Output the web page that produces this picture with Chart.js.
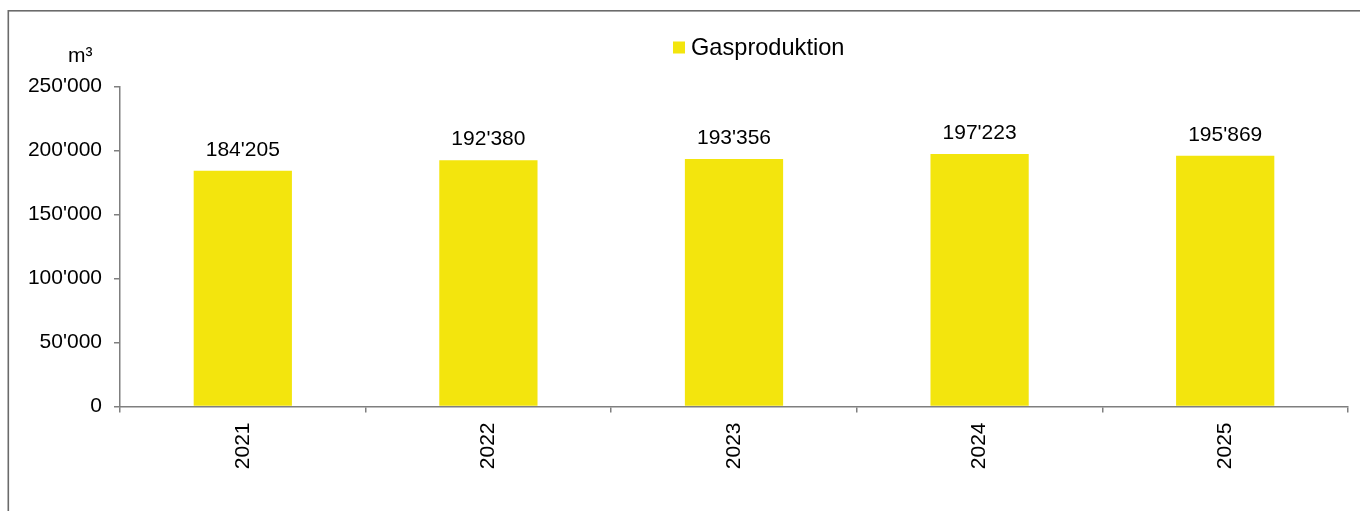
<!DOCTYPE html>
<html>
<head>
<meta charset="utf-8">
<script src="https://cdn.jsdelivr.net/npm/chart.js@4/dist/chart.umd.min.js"></script>
<style>
  html, body { margin: 0; padding: 0; background: #fff; }
  canvas { display: block; }
</style>
</head>
<body>
<canvas id="gas-chart" width="1360" height="511"></canvas>
<script>
const years = ['2021', '2022', '2023', '2024', '2025'];
const gasValues = [184205, 192380, 193356, 197223, 195869];
const yTicks = [0, 50000, 100000, 150000, 200000, 250000];
const seriesLabel = 'Gasproduktion';
const unitLabel = 'm³';

const FONT = "'Liberation Sans', Arial, sans-serif";
const YELLOW = '#F3E50D';
const AXIS_GRAY = '#7f7f7f';

function fmt(v) {
    return String(Math.round(v)).replace(/\B(?=(\d{3})+(?!\d))/g, "'");
}

// frame, unit label, legend and value labels
const extras = {
    id: 'extras',
    beforeDraw(chart) {
        const ctx = chart.ctx;
        ctx.save();
        ctx.strokeStyle = '#6b6b6b';
        ctx.lineWidth = 1.6;
        ctx.strokeRect(8.3, 10.8, 1400, 600);
        ctx.restore();
    },
    afterDatasetsDraw(chart) {
        const ctx = chart.ctx;
        ctx.save();
        ctx.fillStyle = '#000';

        // unit
        ctx.font = '21px ' + FONT;
        ctx.textAlign = 'left';
        ctx.textBaseline = 'alphabetic';
        ctx.fillText(unitLabel, 68, 62);

        // legend
        const ds = chart.data.datasets[0];
        ctx.fillStyle = ds.backgroundColor;
        ctx.fillRect(673, 41.5, 12, 12);
        ctx.fillStyle = '#000';
        ctx.font = '23.6px ' + FONT;
        ctx.textBaseline = 'middle';
        ctx.fillText(ds.label, 691, 48);

        // values above bars
        ctx.font = '21px ' + FONT;
        ctx.textAlign = 'center';
        ctx.textBaseline = 'alphabetic';
        chart.getDatasetMeta(0).data.forEach((bar, i) => {
            ctx.fillText(fmt(ds.data[i]), bar.x, bar.y - 15);
        });
        ctx.restore();
    }
};

const ctx = document.getElementById('gas-chart').getContext('2d');
new Chart(ctx, {
    type: 'bar',
    data: {
        labels: years,
        datasets: [{
            label: seriesLabel,
            data: gasValues,
            backgroundColor: YELLOW,
            borderWidth: 0,
            barPercentage: 0.4,
            categoryPercentage: 1.0
        }]
    },
    options: {
        responsive: false,
        animation: false,
        devicePixelRatio: 1,
        layout: {
            padding: { top: 86.5, right: 12, bottom: 0, left: 0 }
        },
        plugins: {
            legend: { display: false },
            tooltip: { enabled: false }
        },
        scales: {
            x: {
                offset: true,
                grid: {
                    display: true,
                    offset: true,
                    drawOnChartArea: false,
                    drawTicks: true,
                    tickLength: 6,
                    color: AXIS_GRAY,
                    lineWidth: 1.5
                },
                border: { display: true, color: AXIS_GRAY, width: 1.5 },
                ticks: {
                    minRotation: 90,
                    maxRotation: 90,
                    padding: 10,
                    color: '#000',
                    font: { family: FONT, size: 21 }
                },
                afterFit(scale) { scale.height = 104.5; }
            },
            y: {
                min: 0,
                max: 250000,
                afterBuildTicks(scale) {
                    scale.ticks = yTicks.map(v => ({ value: v }));
                },
                grid: {
                    display: true,
                    drawOnChartArea: false,
                    drawTicks: true,
                    tickLength: 6,
                    color: AXIS_GRAY,
                    lineWidth: 1.5
                },
                border: { display: true, color: AXIS_GRAY, width: 1.5 },
                ticks: {
                    padding: 12,
                    color: '#000',
                    font: { family: FONT, size: 21 },
                    callback: v => fmt(v)
                },
                afterFit(scale) { scale.width = 120; }
            }
        }
    },
    plugins: [extras]
});
</script>
</body>
</html>
